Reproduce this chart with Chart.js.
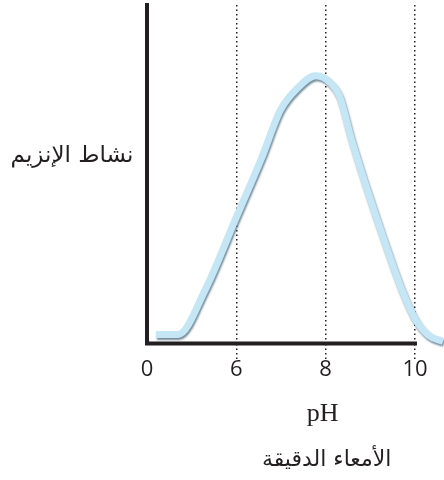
<!DOCTYPE html>
<html>
<head>
<meta charset="utf-8">
<script src="https://cdn.jsdelivr.net/npm/chart.js@4"></script>
<style>
  html, body { margin: 0; padding: 0; background: #ffffff; }
  #wrap { position: relative; width: 444px; height: 480px; }
</style>
</head>
<body>
<div id="wrap"><canvas id="c" width="444" height="480"></canvas></div>
<script>
// pH values (x) and enzyme activity (relative, y)
const phValues = [4.20, 4.70, 5.30, 5.98, 6.56, 6.99, 7.35, 7.78, 8.11, 8.31, 8.58, 8.97, 9.35, 9.71, 10.02, 10.31, 10.63];
const activity = [2.7, 2.7, 15.8, 36.7, 54.6, 69.0, 75.2, 79.1, 77.0, 73.1, 60.3, 43.9, 29.0, 15.8, 6.9, 2.4, 0.6];
// x axis line runs from the (broken) origin to pH 10
const axisLineX = [4, 10];
const axisLineY = [0, 0];
// axis ticks: the origin of the broken axis is labelled 0
const tickValues = [4, 6, 8, 10];
const tickLabels = ['0', '6', '8', '10'];
const gridValues = [6, 8, 10];
const yTitle = 'نشاط الإنزيم';
const xTitle = 'pH';
const xSubtitle = 'الأمعاء الدقيقة';

const points = phValues.map((x, i) => ({ x: x, y: activity[i] }));
const axisPoints = axisLineX.map((x, i) => ({ x: x, y: axisLineY[i] }));

const shadowPlugin = {
  id: 'lineShadow',
  beforeDatasetDraw(chart, args) {
    const ctx = chart.ctx;
    ctx.save();
    if (args.index === 0) {
      ctx.shadowColor = 'rgba(70, 100, 120, 0.75)';
      ctx.shadowBlur = 2;
      ctx.shadowOffsetX = 1;
      ctx.shadowOffsetY = 2;
    }
  },
  afterDatasetDraw(chart) {
    chart.ctx.restore();
  }
};

const titlesPlugin = {
  id: 'freeTitles',
  afterDraw(chart) {
    const ctx = chart.ctx;
    const xs = chart.scales.x;
    const cx = xs.getPixelForValue(8) - 3;
    ctx.save();
    ctx.fillStyle = '#231f20';
    ctx.textAlign = 'center';
    ctx.textBaseline = 'middle';
    ctx.font = '26px "Liberation Serif", "DejaVu Serif", serif';
    ctx.fillText(xTitle, cx, 414);
    ctx.font = '22px "DejaVu Sans", sans-serif';
    ctx.direction = 'rtl';
    ctx.fillText(xSubtitle, cx + 4, 460);
    ctx.font = '23px "DejaVu Sans", sans-serif';
    ctx.fillText(yTitle, 72, 156);
    ctx.restore();
  }
};

new Chart(document.getElementById('c'), {
  type: 'line',
  data: {
    datasets: [{
      data: points,
      borderColor: '#c4e6f5',
      borderWidth: 7,
      pointRadius: 0,
      cubicInterpolationMode: 'monotone',
      fill: false,
      clip: false,
      borderCapStyle: 'butt',
      borderJoinStyle: 'round',
      order: 0
    }, {
      data: axisPoints,
      borderColor: '#231f20',
      borderWidth: 4,
      pointRadius: 0,
      fill: false,
      clip: false,
      borderCapStyle: 'square',
      order: 1
    }]
  },
  options: {
    responsive: false,
    animation: false,
    devicePixelRatio: 1,
    layout: { padding: { left: 147, right: 0, top: 5, bottom: 100 } },
    plugins: { legend: { display: false }, tooltip: { enabled: false }, title: { display: false } },
    scales: {
      x: {
        type: 'linear',
        min: 4,
        max: 10.65,
        afterBuildTicks: (scale) => { scale.ticks = tickValues.map(v => ({ value: v })); },
        ticks: {
          autoSkip: false,
          maxRotation: 0,
          padding: -3,
          color: '#231f20',
          font: { family: '"Open Sans", "Noto Sans", sans-serif', size: 22, weight: 'normal' },
          callback: (v) => { const i = tickValues.indexOf(v); return i >= 0 ? tickLabels[i] : ''; }
        },
        grid: {
          display: true,
          drawOnChartArea: true,
          drawTicks: true,
          tickLength: 16,
          color: (c) => (c.tick && gridValues.includes(c.tick.value)) ? '#231f20' : 'rgba(0,0,0,0)',
          tickColor: (c) => (c.tick && gridValues.includes(c.tick.value)) ? '#231f20' : 'rgba(0,0,0,0)',
          lineWidth: 1.5,
          tickWidth: 1.5,
          tickBorderDash: [1.5, 3]
        },
        border: { display: false, dash: [1.5, 3] }
      },
      y: {
        min: 0,
        max: 100,
        ticks: { display: false },
        grid: { display: false, drawTicks: false },
        border: { display: true, color: '#231f20', width: 4 }
      }
    }
  },
  plugins: [shadowPlugin, titlesPlugin]
});
</script>
</body>
</html>
